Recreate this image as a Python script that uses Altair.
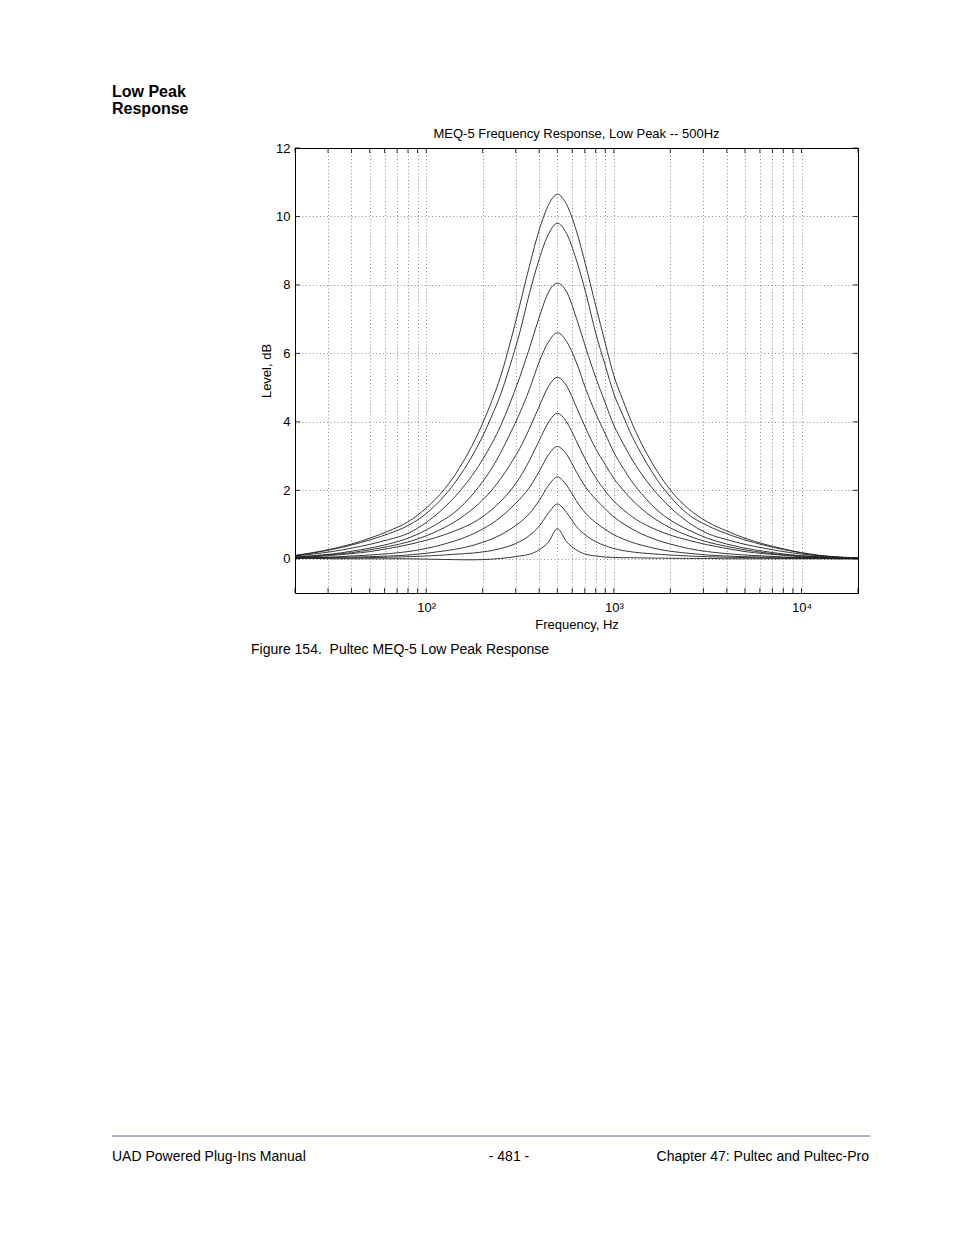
import altair as alt
import pandas as pd

freq_hz = [20, 25, 31.5, 40, 50, 63, 80, 100, 125, 140, 160, 180, 200, 224, 250, 280, 315, 355, 400, 450,
           500, 560, 630, 710, 800, 900, 1000, 1120, 1250, 1400, 1600, 1800, 2000, 2500, 3150, 4000, 5000,
           6300, 8000, 10000, 12500, 16000, 20000]

# Level (dB) of each of the ten boost settings at those frequencies
level_a = [0.1, 0.18, 0.29, 0.43, 0.6, 0.81, 1.08, 1.48, 2.03, 2.39, 2.9, 3.42, 3.96, 4.62, 5.35, 6.3, 7.4, 8.55, 9.6, 10.35,
           10.65, 10.35, 9.6, 8.55, 7.4, 6.3, 5.35, 4.62, 3.96, 3.38, 2.8, 2.35, 2.01, 1.46, 1.08, 0.81, 0.6, 0.43, 0.29, 0.18, 0.1, 0.05, 0.02]
level_b = [0.09, 0.17, 0.27, 0.4, 0.55, 0.73, 0.97, 1.32, 1.84, 2.17, 2.63, 3.1, 3.58, 4.18, 4.82, 5.65, 6.6, 7.75, 8.75, 9.5,
           9.8, 9.5, 8.75, 7.75, 6.6, 5.65, 4.82, 4.18, 3.58, 3.07, 2.53, 2.12, 1.81, 1.29, 0.97, 0.73, 0.55, 0.4, 0.27, 0.17, 0.09, 0.045, 0.02]
level_c = [0.08, 0.14, 0.21, 0.31, 0.42, 0.56, 0.74, 1.06, 1.5, 1.77, 2.14, 2.51, 2.9, 3.37, 3.9, 4.55, 5.3, 6.15, 7.05, 7.8,
           8.05, 7.8, 7.05, 6.15, 5.3, 4.55, 3.9, 3.37, 2.9, 2.49, 2.07, 1.75, 1.5, 1.06, 0.74, 0.56, 0.42, 0.31, 0.21, 0.14, 0.08, 0.04, 0.02]
level_d = [0.06, 0.09, 0.14, 0.22, 0.31, 0.43, 0.6, 0.84, 1.15, 1.33, 1.62, 1.93, 2.25, 2.65, 3.11, 3.65, 4.25, 4.95, 5.75, 6.35,
           6.6, 6.35, 5.75, 4.95, 4.25, 3.65, 3.11, 2.65, 2.25, 1.91, 1.56, 1.31, 1.13, 0.84, 0.6, 0.43, 0.31, 0.22, 0.14, 0.09, 0.06, 0.03, 0.015]
level_e = [0.05, 0.08, 0.12, 0.18, 0.26, 0.36, 0.49, 0.67, 0.91, 1.06, 1.27, 1.49, 1.72, 2.01, 2.35, 2.75, 3.22, 3.8, 4.45, 5.05,
           5.3, 5.05, 4.45, 3.8, 3.22, 2.75, 2.35, 2.01, 1.72, 1.47, 1.22, 1.04, 0.9, 0.67, 0.49, 0.36, 0.26, 0.18, 0.12, 0.08, 0.05, 0.025, 0.01]
level_f = [0.05, 0.06, 0.1, 0.15, 0.21, 0.3, 0.41, 0.54, 0.7, 0.8, 0.93, 1.07, 1.23, 1.44, 1.68, 1.98, 2.37, 2.87, 3.45, 4.0,
           4.25, 4.0, 3.45, 2.87, 2.37, 1.98, 1.68, 1.44, 1.23, 1.06, 0.9, 0.78, 0.69, 0.54, 0.41, 0.3, 0.21, 0.15, 0.1, 0.06, 0.04, 0.02, 0.01]
level_g = [0.03, 0.04, 0.05, 0.08, 0.11, 0.15, 0.21, 0.3, 0.43, 0.51, 0.62, 0.74, 0.87, 1.03, 1.22, 1.46, 1.74, 2.08, 2.55, 3.05,
           3.28, 3.05, 2.55, 2.08, 1.74, 1.46, 1.22, 1.03, 0.87, 0.73, 0.6, 0.5, 0.43, 0.3, 0.21, 0.15, 0.11, 0.08, 0.05, 0.04, 0.03, 0.015, 0.01]
level_h = [0.03, 0.03, 0.04, 0.05, 0.06, 0.08, 0.11, 0.16, 0.23, 0.27, 0.33, 0.4, 0.48, 0.58, 0.7, 0.86, 1.06, 1.32, 1.7, 2.15,
           2.39, 2.15, 1.7, 1.32, 1.06, 0.86, 0.7, 0.58, 0.48, 0.4, 0.32, 0.26, 0.22, 0.16, 0.11, 0.08, 0.06, 0.05, 0.04, 0.03, 0.02, 0.01, 0.01]
level_i = [0.02, 0.02, 0.02, 0.025, 0.035, 0.045, 0.06, 0.08, 0.11, 0.13, 0.15, 0.17, 0.2, 0.24, 0.3, 0.38, 0.5, 0.68, 0.95, 1.35,
           1.6, 1.35, 0.95, 0.68, 0.5, 0.38, 0.3, 0.24, 0.2, 0.17, 0.145, 0.125, 0.11, 0.08, 0.06, 0.045, 0.035, 0.025, 0.015, 0.01, 0.01, 0.0, 0.0]
level_j = [0.01, 0.01, 0.0, 0.0, 0.0, 0.0, 0.0, -0.01, -0.02, -0.025, -0.03, -0.03, -0.025, -0.01, 0.01, 0.04, 0.08, 0.13, 0.26, 0.5,
           0.88, 0.5, 0.26, 0.13, 0.08, 0.05, 0.04, 0.03, 0.03, 0.025, 0.02, 0.017, 0.015, 0.01, 0.01, 0.0, 0.0, 0.0, 0.0, 0.0, 0.0, 0.0, 0.0]

curve_names = ["a", "b", "c", "d", "e", "f", "g", "h", "i", "j"]
curve_levels = [level_a, level_b, level_c, level_d, level_e, level_f, level_g, level_h, level_i, level_j]

rows = []
for name, levels in zip(curve_names, curve_levels):
    for f, v in zip(freq_hz, levels):
        rows.append({"freq": f, "level": v, "curve": name})
df = pd.DataFrame(rows)

# Grid / tick positions
x_grid_values = [20, 30, 40, 50, 60, 70, 80, 90, 100, 200, 300, 400, 500, 600, 700, 800, 900,
                 1000, 2000, 3000, 4000, 5000, 6000, 7000, 8000, 9000, 10000, 20000]
y_tick_values = [0, 2, 4, 6, 8, 10, 12]

chart_title = "MEQ-5 Frequency Response, Low Peak -- 500Hz"
x_title = "Frequency, Hz"
y_title = "Level, dB"
heading_1 = "Low Peak"
heading_2 = "Response"
caption = "Figure 154.\u00a0 Pultec MEQ-5 Low Peak Response"
footer_left = "UAD Powered Plug-Ins Manual"
footer_mid = "- 481 -"
footer_right = "Chapter 47: Pultec and Pultec-Pro"

W, H = 563, 445
FONT = "Liberation Sans, Arial, Helvetica, sans-serif"

xscale = alt.Scale(type="log", domain=[20, 20000], nice=False)
yscale = alt.Scale(domain=[-1, 12], nice=False, zero=False)

label_expr = ("datum.value == 100 ? '10\u00b2' : datum.value == 1000 ? '10\u00b3' : "
              "datum.value == 10000 ? '10\u2074' : ''")

x_axis = alt.Axis(values=x_grid_values, grid=True, ticks=False, domain=False,
                  labelExpr=label_expr, labelOverlap=False, labelFlush=False,
                  labelFont=FONT, labelFontSize=13, labelColor="black", labelPadding=8,
                  title=x_title, titleFont=FONT, titleFontSize=13, titleFontWeight="normal",
                  titleColor="black", titlePadding=4,
                  gridColor="#000000", gridOpacity=0.55, gridDash=[1, 2.5], gridWidth=0.8)
y_axis = alt.Axis(values=y_tick_values, grid=True, ticks=False, domain=False,
                  labelFont=FONT, labelFontSize=13, labelColor="black", labelPadding=5,
                  title=y_title, titleFont=FONT, titleFontSize=13, titleFontWeight="normal",
                  titleColor="black", titlePadding=2,
                  gridColor="#000000", gridOpacity=0.55, gridDash=[1, 2.5], gridWidth=0.8)

lines = alt.Chart(df).mark_line(interpolate="monotone", color="#222222", strokeWidth=0.9).encode(
    x=alt.X("freq:Q", scale=xscale, axis=x_axis),
    y=alt.Y("level:Q", scale=yscale, axis=y_axis),
    detail="curve:N",
)

xt = pd.DataFrame({"freq": x_grid_values})
yt = pd.DataFrame({"level": y_tick_values})

tick_bottom = alt.Chart(xt).mark_rule(color="black", strokeWidth=0.8).encode(
    x=alt.X("freq:Q", scale=xscale, axis=x_axis), y=alt.value(H), y2=alt.value(H - 5))
tick_top = alt.Chart(xt).mark_rule(color="black", strokeWidth=0.8).encode(
    x=alt.X("freq:Q", scale=xscale, axis=x_axis), y=alt.value(0), y2=alt.value(5))
tick_left = alt.Chart(yt).mark_rule(color="black", strokeWidth=0.8).encode(
    y=alt.Y("level:Q", scale=yscale, axis=y_axis), x=alt.value(0), x2=alt.value(5))
tick_right = alt.Chart(yt).mark_rule(color="black", strokeWidth=0.8).encode(
    y=alt.Y("level:Q", scale=yscale, axis=y_axis), x=alt.value(W), x2=alt.value(W - 5))

one = pd.DataFrame({"k": [0]})

def page_text(txt, x, y, align="left", size=14, weight="normal"):
    return alt.Chart(one).mark_text(text=txt, align=align, baseline="alphabetic", font=FONT,
                                    fontSize=size, fontWeight=weight, color="black").encode(
        x=alt.value(x), y=alt.value(y))

title_txt = page_text(chart_title, W / 2, -10, align="center", size=13)
head1 = page_text(heading_1, -183, -51, size=16, weight="bold")
head2 = page_text(heading_2, -183, -34, size=16, weight="bold")
cap = page_text(caption, -44, 506, size=14)
foot_l = page_text(footer_left, -183, 1013, size=14)
foot_m = page_text(footer_mid, 214, 1013, align="center", size=14)
foot_r = page_text(footer_right, 574, 1013, align="right", size=14)
foot_rule = alt.Chart(one).mark_rule(color="#6e5a86", strokeWidth=1).encode(
    x=alt.value(-183), x2=alt.value(575), y=alt.value(988))

chart = alt.layer(
    lines, tick_bottom, tick_top, tick_left, tick_right,
    title_txt, head1, head2, cap, foot_l, foot_m, foot_r, foot_rule,
).properties(
    width=W, height=H,
    autosize=alt.AutoSizeParams(type="none"),
    padding={"left": 287, "top": 140, "right": 88, "bottom": 605},
).configure_view(stroke="black", strokeWidth=1)

chart.save("out.html", embed_options={"renderer": "svg", "actions": False})
